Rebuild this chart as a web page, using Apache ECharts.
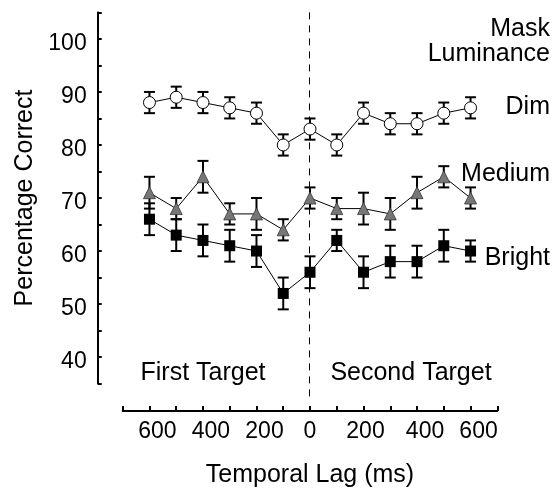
<!DOCTYPE html>
<html>
<head>
<meta charset="utf-8">
<script src="https://cdn.jsdelivr.net/npm/echarts@6/dist/echarts.min.js"></script>
<style>
html,body{margin:0;padding:0;background:#fff;}
#chart{width:554px;height:493px;}
</style>
</head>
<body>
<div id="chart"></div>
<script>
// Temporal lag positions (negative = relative to first target, positive = second target)
var lags = [-600, -500, -400, -300, -200, -100, 0, 100, 200, 300, 400, 500, 600];
var xTickLabels = [-600, -400, -200, 0, 200, 400, 600];
var yTickLabels = [40, 50, 60, 70, 80, 90, 100];
var dividerLag = [0];

var dimMean    = [88, 89, 88, 87, 86, 80, 83, 80, 86, 84, 84, 86, 87];
var dimErr     = [2, 2, 2, 2, 2, 2, 2, 2, 2, 2, 2, 2, 2];
var mediumMean = [71, 68, 74, 67, 67, 64, 70, 68, 68, 67, 71, 74, 70];
var mediumErr  = [3, 2, 3, 2, 3, 2, 2, 2, 3, 3, 3, 2, 2];
var brightMean = [66, 63, 62, 61, 60, 52, 56, 62, 56, 58, 58, 61, 60];
var brightErr  = [3, 3, 3, 3, 3, 3, 3, 2, 3, 3, 3, 3, 2];

var seriesNames = ['Dim', 'Medium', 'Bright'];

var FONT = '"Liberation Sans", Arial, Helvetica, sans-serif';
var Y_MIN = 35, Y_MAX = 105;

function pairs(means) {
  return lags.map(function (x, i) { return [x, means[i]]; });
}
function errTriples(means, errs) {
  return lags.map(function (x, i) { return [x, means[i], errs[i]]; });
}

function renderErr(params, api) {
  var x = api.value(0), y = api.value(1), e = api.value(2);
  var top = api.coord([x, y + e]);
  var bot = api.coord([x, y - e]);
  var hw = 5.5;
  var st = { stroke: '#000', lineWidth: 2 };
  return {
    type: 'group',
    children: [
      { type: 'line', shape: { x1: top[0], y1: top[1], x2: bot[0], y2: bot[1] }, style: st },
      { type: 'line', shape: { x1: top[0] - hw, y1: top[1], x2: top[0] + hw, y2: top[1] }, style: st },
      { type: 'line', shape: { x1: bot[0] - hw, y1: bot[1], x2: bot[0] + hw, y2: bot[1] }, style: st }
    ]
  };
}

function renderDivider(params, api) {
  var x = api.value(0);
  var top = api.coord([x, Y_MAX]);
  var bot = api.coord([x, Y_MIN]);
  var px = Math.round(top[0]) - 0.5;
  return {
    type: 'line',
    shape: { x1: px, y1: top[1], x2: px, y2: bot[1] + 14 },
    style: { stroke: '#000', lineWidth: 1, lineDash: [7, 6] }
  };
}

var labelShift = { '-600': 16, '-400': 16, '-200': 16, '0': 0, '200': 4, '400': 16, '600': 16 };

var chart = echarts.init(document.getElementById('chart'), null, { renderer: 'canvas' });

var option = {
  animation: false,
  backgroundColor: '#fff',
  grid: { left: 122.7, right: 56.7, top: 12.4, bottom: 107.7, containLabel: false },
  xAxis: {
    type: 'value',
    min: -700, max: 700, interval: 100,
    offset: 27.4,
    name: 'Temporal Lag (ms)',
    nameLocation: 'middle',
    nameGap: 52,
    nameTextStyle: { fontFamily: FONT, fontSize: 25, color: '#000' },
    axisLine: { show: true, onZero: false, lineStyle: { color: '#000', width: 2 } },
    axisTick: { show: true, inside: true, length: 5, lineStyle: { color: '#000', width: 2 } },
    splitLine: { show: false },
    axisLabel: {
      margin: 9,
      fontFamily: FONT, fontSize: 23, color: '#000',
      formatter: function (v) {
        if (xTickLabels.indexOf(v) < 0) return '';
        var s = labelShift[String(v)];
        return '{p' + s + '|' + Math.abs(v) + '}';
      },
      rich: {
        p0: { fontFamily: FONT, fontSize: 23, color: '#000', padding: [0, 0, 0, 0] },
        p4: { fontFamily: FONT, fontSize: 23, color: '#000', padding: [0, 0, 0, 4] },
        p16: { fontFamily: FONT, fontSize: 23, color: '#000', padding: [0, 0, 0, 16] }
      }
    }
  },
  yAxis: {
    type: 'value',
    min: Y_MIN, max: Y_MAX, interval: 5,
    offset: 25,
    name: 'Percentage Correct',
    nameLocation: 'middle',
    nameGap: 60,
    nameTextStyle: { fontFamily: FONT, fontSize: 25, color: '#000' },
    axisLine: { show: true, onZero: false, lineStyle: { color: '#000', width: 2 } },
    axisTick: { show: true, inside: true, length: 4, lineStyle: { color: '#000', width: 2 } },
    splitLine: { show: false },
    axisLabel: {
      margin: 11,
      fontFamily: FONT, fontSize: 23, color: '#000',
      formatter: function (v) { return yTickLabels.indexOf(v) >= 0 ? '{d|' + v + '}' : ''; },
      rich: {
        d: { fontFamily: FONT, fontSize: 23, color: '#000', padding: [9, 0, 0, 0] }
      }
    }
  },
  graphic: [
    { type: 'text', z: 10, style: { text: 'Mask', x: 550, y: 29, align: 'right', verticalAlign: 'middle', font: '25px ' + FONT, fill: '#000' } },
    { type: 'text', z: 10, style: { text: 'Luminance', x: 550, y: 54, align: 'right', verticalAlign: 'middle', font: '25px ' + FONT, fill: '#000' } },
    { type: 'text', z: 10, style: { text: seriesNames[0], x: 550, y: 107, align: 'right', verticalAlign: 'middle', font: '25px ' + FONT, fill: '#000' } },
    { type: 'text', z: 10, style: { text: seriesNames[1], x: 550, y: 174, align: 'right', verticalAlign: 'middle', font: '25px ' + FONT, fill: '#000' } },
    { type: 'text', z: 10, style: { text: seriesNames[2], x: 550, y: 258, align: 'right', verticalAlign: 'middle', font: '25px ' + FONT, fill: '#000' } },
    { type: 'text', z: 10, style: { text: 'First Target', x: 203, y: 373, align: 'center', verticalAlign: 'middle', font: '25px ' + FONT, fill: '#000' } },
    { type: 'text', z: 10, style: { text: 'Second Target', x: 411, y: 373, align: 'center', verticalAlign: 'middle', font: '25px ' + FONT, fill: '#000' } }
  ],
  series: [
    { type: 'custom', name: 'Divider', renderItem: renderDivider, data: dividerLag.map(function (v) { return [v]; }), encode: { x: 0 }, clip: false, z: 1, silent: true },
    { type: 'custom', name: 'DimErr', renderItem: renderErr, data: errTriples(dimMean, dimErr), clip: false, z: 2, silent: true },
    { type: 'custom', name: 'MediumErr', renderItem: renderErr, data: errTriples(mediumMean, mediumErr), clip: false, z: 2, silent: true },
    { type: 'custom', name: 'BrightErr', renderItem: renderErr, data: errTriples(brightMean, brightErr), clip: false, z: 2, silent: true },
    {
      type: 'line', name: seriesNames[0], data: pairs(dimMean), z: 3,
      symbol: 'circle', symbolSize: 12, showAllSymbol: true,
      lineStyle: { color: '#000', width: 1 },
      itemStyle: { color: '#fff', borderColor: '#000', borderWidth: 1 }
    },
    {
      type: 'line', name: seriesNames[1], data: pairs(mediumMean), z: 3,
      symbol: 'triangle', symbolSize: 12, showAllSymbol: true,
      lineStyle: { color: '#000', width: 1 },
      itemStyle: { color: '#777', borderColor: '#333', borderWidth: 0.8 }
    },
    {
      type: 'line', name: seriesNames[2], data: pairs(brightMean), z: 3,
      symbol: 'rect', symbolSize: 11, showAllSymbol: true,
      lineStyle: { color: '#000', width: 1 },
      itemStyle: { color: '#000' }
    }
  ]
};
chart.setOption(option);
</script>
</body>
</html>
